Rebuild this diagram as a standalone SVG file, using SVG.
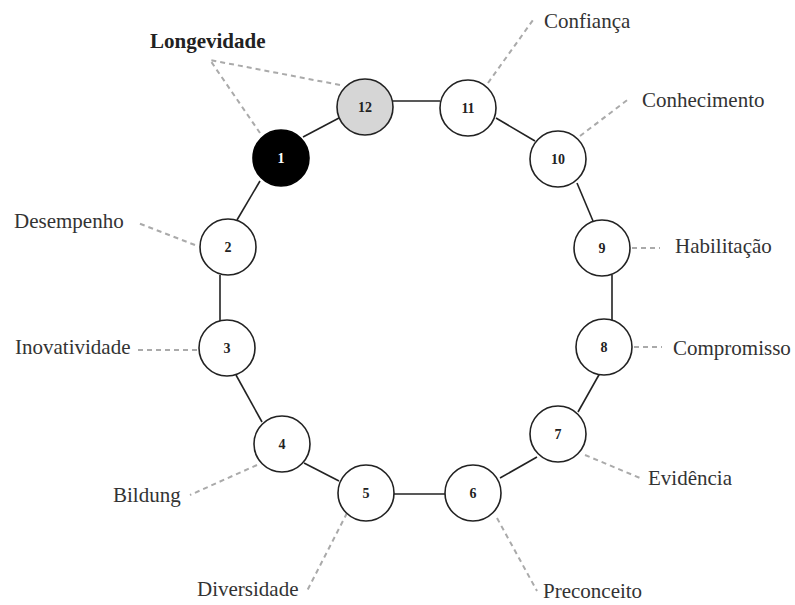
<svg xmlns="http://www.w3.org/2000/svg" width="795" height="605" viewBox="0 0 795 605">
<style>
.n{fill:#fff;stroke:#222;stroke-width:1.6}
.num{font-family:"Liberation Serif",serif;font-size:14px;font-weight:bold;text-anchor:middle;fill:#222}
.lbl{font-family:"Liberation Serif",serif;font-size:21px;fill:#333}
.c{stroke:#222;stroke-width:1.6;fill:none}
.d{stroke:#aaa;stroke-width:2;stroke-dasharray:5 4;fill:none}
</style>
<rect width="795" height="605" fill="#fff"/>
<g id="connectors">
<line class="c" x1="393" y1="101" x2="440" y2="101"/>
<line class="c" x1="303" y1="137" x2="339" y2="118"/>
<line class="c" x1="260" y1="181" x2="237" y2="220"/>
<line class="c" x1="220" y1="275" x2="220" y2="321"/>
<line class="c" x1="236" y1="375" x2="262" y2="422"/>
<line class="c" x1="304" y1="463" x2="339" y2="481"/>
<line class="c" x1="394" y1="494" x2="445" y2="494"/>
<line class="c" x1="500" y1="478" x2="537" y2="457"/>
<line class="c" x1="600" y1="373" x2="578" y2="412"/>
<line class="c" x1="612" y1="275" x2="612" y2="320"/>
<line class="c" x1="577" y1="183" x2="593" y2="221"/>
<line class="c" x1="496" y1="118" x2="535" y2="141"/>
<polyline class="d" points="340,85 210,60 260,133"/>
<line class="d" x1="488" y1="83" x2="533" y2="20"/>
<line class="d" x1="580" y1="136" x2="630" y2="98"/>
<line class="d" x1="632" y1="248" x2="660" y2="248"/>
<line class="d" x1="634" y1="347" x2="662" y2="347"/>
<line class="d" x1="585" y1="455" x2="640" y2="478"/>
<line class="d" x1="497" y1="518" x2="537" y2="591"/>
<line class="d" x1="347" y1="513" x2="307" y2="591"/>
<line class="d" x1="257" y1="465" x2="190" y2="495"/>
<line class="d" x1="197" y1="350" x2="137" y2="350"/>
<line class="d" x1="195" y1="245" x2="138" y2="223"/>
</g>
<g id="node1"><circle cx="281" cy="158" r="28" fill="#000" stroke="#000" stroke-width="1.6"/><text class="num" x="281" y="163" style="fill:#fff">1</text></g>
<g id="node2"><circle class="n" cx="228" cy="247" r="28"/><text class="num" x="228" y="252">2</text></g>
<g id="node3"><circle class="n" cx="227" cy="348" r="28"/><text class="num" x="227" y="353">3</text></g>
<g id="node4"><circle class="n" cx="282" cy="444" r="28"/><text class="num" x="282" y="449">4</text></g>
<g id="node5"><circle class="n" cx="366" cy="493" r="28"/><text class="num" x="366" y="498">5</text></g>
<g id="node6"><circle class="n" cx="473" cy="493" r="28"/><text class="num" x="473" y="498">6</text></g>
<g id="node7"><circle class="n" cx="558" cy="434" r="28"/><text class="num" x="558" y="439">7</text></g>
<g id="node8"><circle class="n" cx="604" cy="347" r="28"/><text class="num" x="604" y="352">8</text></g>
<g id="node9"><circle class="n" cx="602" cy="248" r="28"/><text class="num" x="602" y="253">9</text></g>
<g id="node10"><circle class="n" cx="558" cy="159" r="28"/><text class="num" x="558" y="164">10</text></g>
<g id="node11"><circle class="n" cx="468" cy="108" r="28"/><text class="num" x="468" y="113">11</text></g>
<g id="node12"><circle class="n" cx="365" cy="107" r="28" style="fill:#d6d6d6"/><text class="num" x="365" y="112">12</text></g>
<g id="labels">
<text class="lbl" x="150" y="48" style="font-weight:bold;fill:#222">Longevidade</text>
<text class="lbl" x="544" y="28">Confiança</text>
<text class="lbl" x="642" y="107">Conhecimento</text>
<text class="lbl" x="675" y="253">Habilitação</text>
<text class="lbl" x="673" y="355">Compromisso</text>
<text class="lbl" x="648" y="485">Evidência</text>
<text class="lbl" x="543" y="598">Preconceito</text>
<text class="lbl" x="197" y="596">Diversidade</text>
<text class="lbl" x="113" y="502">Bildung</text>
<text class="lbl" x="15" y="354">Inovatividade</text>
<text class="lbl" x="14" y="228">Desempenho</text>
</g>
</svg>
